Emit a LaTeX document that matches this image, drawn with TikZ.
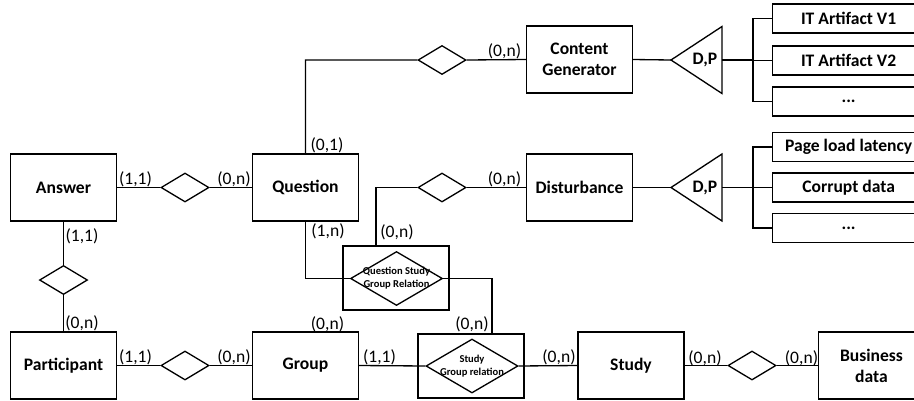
\documentclass[tikz,border=0pt]{standalone}
\usepackage{fontspec}
\setmainfont{Carlito}
\usepackage{tikz}
\usetikzlibrary{shapes.geometric}

\begin{document}
\begin{tikzpicture}[x=0.02cm, y=-0.02cm, line width=0.75pt,
    entity/.style={draw, minimum width=2.12cm, minimum height=1.34cm, align=center, font=\bfseries},
    rel/.style={draw, diamond, minimum width=0.96cm, minimum height=0.58cm, inner sep=0pt},
    assocbox/.style={draw, minimum width=2.12cm, minimum height=1.28cm},
    assocrel/.style={draw, diamond, minimum width=1.84cm, minimum height=1.08cm, inner sep=0pt},
    assoctext/.style={font=\fontsize{6}{7.4}\selectfont\bfseries, align=center, inner sep=0pt},
    subtype/.style={draw, minimum width=3.04cm, minimum height=0.58cm, font=\bfseries, anchor=west},
    card/.style={inner sep=0pt}]

    \useasboundingbox (0,0) rectangle (914,400);
    \clip (0,0) rectangle (914,400);

    % entities
    \node (answer) [entity] at (63.5,187.5) {Answer};
    \node (question) [entity] at (305.5,187.5) {Question};
    \node (participant) [entity] at (63.5,365.5) {Participant};
    \node (group) [entity] at (305.5,365.5) {Group};
    \node (cgen) [entity] at (579.5,59.5) {Content\\Generator};
    \node (disturb) [entity] at (579.5,187.5) {Disturbance};
    \node (study) [entity] at (631,365.5) {Study};
    \node (business) [entity] at (871.5,365.5) {Business\\data};

    % relationships
    \node (aq) [rel] at (185,187.5) {};
    \node (ap) [rel] at (63.5,280) {};
    \node (pg) [rel] at (185,365.5) {};
    \node (qc) [rel] at (442,60) {};
    \node (qd) [rel] at (442,187.5) {};
    \node (sb) [rel] at (752,365.5) {};

    % associative entities
    \node (qsgrbox) [assocbox] at (396,278) {};
    \node (qsgr) [assocrel] at (396.5,278.5) {};
    \node (qsgrtext) [assoctext] at (qsgr) {Question Study\\Group Relation};
    \node (sgrbox) [assocbox] at (471,366) {};
    \node (sgr) [assocrel] at (472,366) {};
    \node (sgrtext) [assoctext] at (sgr) {Study\\Group relation};

    % specialisation
    \foreach \t/\y in {cg/60, dis/187.5} {
        \coordinate (\t-tip) at (671,\y);
        \coordinate (\t-base) at (722,\y);
        \coordinate (\t-bus) at (753,\y);
        \draw (\t-tip) -- (722,\y-33.5) -- (722,\y+33.5) -- cycle;
        \node (\t-dp) [font=\bfseries] at (705,\y) {D,P};
        \draw (\t-base) -- (\t-bus);
    }
    \node (cgv1) [subtype] at (772,18.5) {IT Artifact V1};
    \node (cgv2) [subtype] at (772,60.5) {IT Artifact V2};
    \node (cgv3) [subtype] at (772,101.5) {...};
    \node (dis1) [subtype] at (772,147) {Page load latency};
    \node (dis2) [subtype] at (772,187.5) {Corrupt data};
    \node (dis3) [subtype] at (772,228) {...};
    \foreach \s in {cgv1, cgv2, cgv3} \draw (cg-bus) |- (\s.west);
    \foreach \s in {dis1, dis2, dis3} \draw (dis-bus) |- (\s.west);

    % connectors
    \draw (answer.east) -- (aq.west) (aq.east) -- (question.west);
    \draw (answer.south) -- (ap.north) (ap.south) -- (participant.north);
    \draw (participant.east) -- (pg.west) (pg.east) -- (group.west);
    \draw (question.north) |- (qc.west) (qc.east) -- (cgen.west);
    \draw (cgen.east) -- (cg-tip);
    \draw (disturb.east) -- (dis-tip);
    \draw ([xshift=-0.4cm]qsgrbox.north) |- (qd.west) (qd.east) -- (disturb.west);
    \draw (question.south) |- (qsgr.west);
    \draw (qsgr.east) -| ([xshift=0.42cm]sgrbox.north);
    \draw (group.east) -- (sgr.west) (sgr.east) -- (study.west);
    \draw (study.east) -- (sb.west) (sb.east) -- (business.west);

    % cardinalities
    \foreach \x/\y/\t [count=\i] in {504.5/51.5/{(0,n)}, 327/145/{(0,1)}, 328/231.5/{(1,n)},
            397/232/{(0,n)}, 504.5/179.5/{(0,n)}, 135.5/179/{(1,1)}, 234/179/{(0,n)},
            82/236/{(1,1)}, 82/323/{(0,n)}, 135.5/357.5/{(1,1)}, 234/357.5/{(0,n)},
            327.5/324.5/{(0,n)}, 379.5/357/{(1,1)}, 472/324.5/{(0,n)}, 559/357/{(0,n)},
            705/358/{(0,n)}, 801.5/358/{(0,n)}} {
        \node (card\i) [card] at (\x,\y) {\t};
    }
\end{tikzpicture}
\end{document}
